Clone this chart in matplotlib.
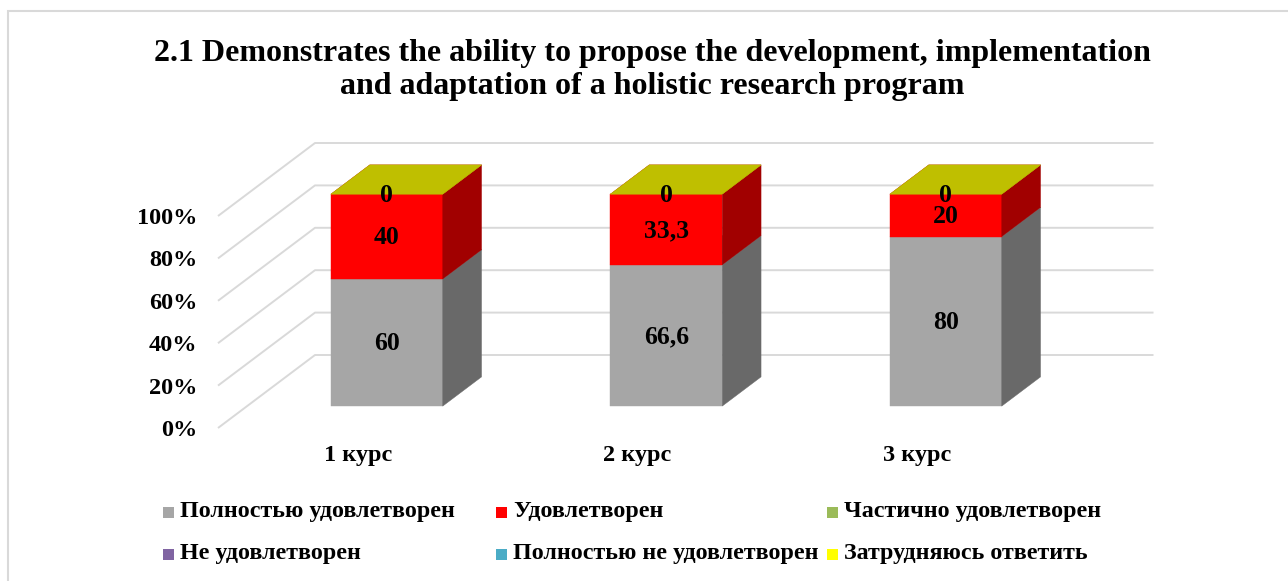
import numpy as np
import matplotlib
matplotlib.use('Agg')
import matplotlib.pyplot as plt
import matplotlib.colors as mcolors
from matplotlib.patches import Polygon, Rectangle

categories = ['1 курс', '2 курс', '3 курс']
series_names = ['Полностью удовлетворен', 'Удовлетворен', 'Частично удовлетворен',
                'Не удовлетворен', 'Полностью не удовлетворен', 'Затрудняюсь ответить']
fully_satisfied = [60, 66.6, 80]
satisfied = [40, 33.3, 20]
partly_satisfied = [None, None, None]
not_satisfied = [None, None, None]
fully_not_satisfied = [None, None, None]
hard_to_say = [0, 0, 0]
yticks = [0, 20, 40, 60, 80, 100]
title_lines = ['2.1 Demonstrates the ability to propose the development, implementation',
               'and adaptation of a holistic research program']

series = [fully_satisfied, satisfied, partly_satisfied,
          not_satisfied, fully_not_satisfied, hard_to_say]
colors = ['#a6a6a6', '#ff0000', '#9bbb59', '#8064a2', '#4bacc6', '#ffff00']

FONT = 'Liberation Serif'
W, H = 1288, 581
GRID = '#d9d9d9'

fig = plt.figure(figsize=(W / 100, H / 100), dpi=100)

# chart area border (only top and left visible in the picture)
fig.patches.append(Rectangle((8 / W, -0.1), 1.2, 1 - 11 / H + 0.1, transform=fig.transFigure,
                             fill=False, edgecolor=GRID, lw=1.5))

# axes = front plane of the 3d box
ax = fig.add_axes([218 / W, (H - 428) / H, (1056.5 - 218) / W, 212 / H])
ax.set_xlim(-0.5, len(categories) - 0.5)
ax.set_ylim(0, 100)
for sp in ax.spines.values():
    sp.set_visible(False)
ax.patch.set_visible(False)

# depth of the box in data units
DX = 97 / 279.5
DY = 73 / 2.12


def proj(x, y, d):
    return (x + d * DX, y + d * DY)


def shade(c, f):
    return tuple(np.array(mcolors.to_rgb(c)) * f)


# side wall + back wall gridlines
x_left, x_right = -0.5, len(categories) - 0.5
for t in yticks:
    pts = [proj(x_left, t, 0), proj(x_left, t, 1), proj(x_right, t, 1)]
    ax.plot([p[0] for p in pts], [p[1] for p in pts], color=GRID, lw=1.4,
            clip_on=False, zorder=1, solid_capstyle='butt')

bw = 0.4
d0, d1 = 0.3, 0.7
z = 2
for i in range(len(categories)):
    vals = [s[i] for s in series]
    total = sum(v for v in vals if v is not None)
    base = 0
    for k, v in enumerate(vals):
        if v is None:
            continue
        h = v / total * 100
        top = base + h
        xa, xb = i - bw / 2, i + bw / 2
        c = colors[k]
        front = [proj(xa, base, d0), proj(xb, base, d0), proj(xb, top, d0), proj(xa, top, d0)]
        side = [proj(xb, base, d0), proj(xb, base, d1), proj(xb, top, d1), proj(xb, top, d0)]
        lid = [proj(xa, top, d0), proj(xb, top, d0), proj(xb, top, d1), proj(xa, top, d1)]
        for poly, col in ((front, c), (side, shade(c, 0.63)), (lid, shade(c, 0.75))):
            ax.add_patch(Polygon(poly, closed=True, facecolor=col, edgecolor=col,
                                 lw=0.3, clip_on=False, zorder=z))
        z += 1
        lx, ly = proj(i, base + h / 2, d0)
        ax.text(lx, ly - 0.5, f'{v:g}'.replace('.', ','), ha='center', va='center',
                fontsize=18.5, fontweight='bold', family=FONT, zorder=100)
        base = top

ax.set_yticks(yticks, labels=[f'{t}%' for t in yticks])
ax.set_xticks(range(len(categories)), labels=categories)
ax.tick_params(length=0)
ax.tick_params(axis='y', pad=15)
ax.tick_params(axis='x', pad=12)
for lab in ax.get_xticklabels() + ax.get_yticklabels():
    lab.set_fontsize(17.5)
    lab.set_fontweight('bold')
    lab.set_family(FONT)

# title
fig.text(652 / W, 1 - 61 / H, title_lines[0], ha='center', va='baseline',
         fontsize=23, fontweight='bold', family=FONT)
fig.text(652 / W, 1 - 94 / H, title_lines[1], ha='center', va='baseline',
         fontsize=23, fontweight='bold', family=FONT)

# legend laid out in 3 columns like the original
col_x = [163, 496, 827]
row_y = [512, 554]
for k, name in enumerate(series_names):
    mx = col_x[k % 3]
    my = row_y[k // 3]
    fig.patches.append(Rectangle((mx / W, 1 - (my + 5.5) / H), 11 / W, 11 / H,
                                 transform=fig.transFigure, facecolor=colors[k], lw=0))
    fig.text((mx + 17) / W, 1 - my / H, name, ha='left', va='center',
             fontsize=17.3, fontweight='bold', family=FONT)

fig.savefig('out.png', dpi=100, facecolor='white')
